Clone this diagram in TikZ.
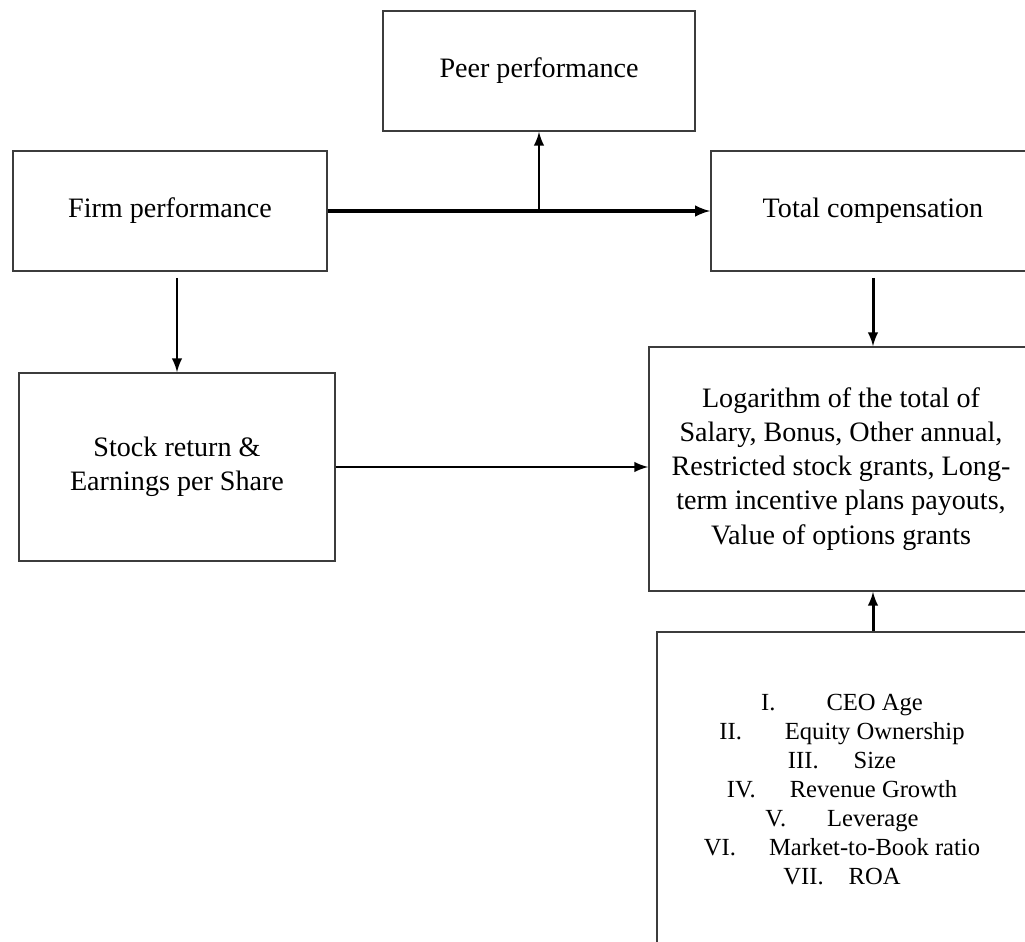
\documentclass[tikz,border=0pt]{standalone}
\usepackage{fontspec}
\setmainfont{Liberation Serif}
\usepackage{tikz}
\usetikzlibrary{arrows, shadows, positioning}
\definecolor{boxline}{RGB}{60, 60, 60}

\begin{document}
\begin{tikzpicture}[x=0.02cm, y=-0.02cm,
    box/.style={draw=boxline, line width=1pt, fill=white, align=center,
                drop shadow={shadow xshift=0.8pt, shadow yshift=-0.8pt, opacity=0.3},
                font=\fontsize{16}{19.4}\selectfont, inner sep=0pt},
    flow/.style={-latex, line width=1.7pt},
    mainflow/.style={-latex, line width=1.9pt}]
    % Canvas
    \useasboundingbox (0,0) rectangle (1025,942);
    \clip (0,0) rectangle (1025,942);

    % Boxes
    \node[box, minimum width=6.24cm, minimum height=2.4cm] (peer) at (539,71) {Peer performance};
    \node[box, minimum width=6.28cm, minimum height=2.4cm] (firm) at (170,211) {Firm performance};
    \node[box, minimum width=6.48cm, minimum height=2.4cm] (total) at (873,211) {Total compensation};
    \node[box, minimum width=6.31cm, minimum height=3.76cm] (stock) at (177,467) {Stock return \&\\Earnings per Share};
    \node[box, minimum width=7.68cm, minimum height=4.88cm] (logc) at (841,469)
        {Logarithm of the total of\\Salary, Bonus, Other annual,\\Restricted stock grants, Long-\\term incentive plans payouts,\\Value of options grants};
    \node[box, minimum width=7.4cm, minimum height=6.32cm, font=\fontsize{14}{16.5}\selectfont] (ctrl) at (842,790)
        {I.\hspace{1.02cm}CEO Age\\
         II.\hspace{0.86cm}Equity Ownership\\
         III.\hspace{0.7cm}Size\\
         IV.\hspace{0.68cm}Revenue Growth\\
         V.\hspace{0.82cm}Leverage\\
         VI.\hspace{0.66cm}Market-to-Book ratio\\
         VII.\hspace{0.5cm}ROA};

    % Connectors
    \draw[mainflow] (firm.east) -- (total.west);
    \draw[flow] (peer.south |- firm.east) -- (peer.south);
    \draw[flow, shorten <=0.12cm] (firm.south -| stock.north) -- (stock.north);
    \draw[flow, shorten <=0.12cm] (total.south) -- (total.south |- logc.north);
    \draw[flow] (stock.east) -- (stock.east -| logc.west);
    \draw[flow] (ctrl.north -| total.south) -- (logc.south -| total.south);
\end{tikzpicture}
\end{document}
